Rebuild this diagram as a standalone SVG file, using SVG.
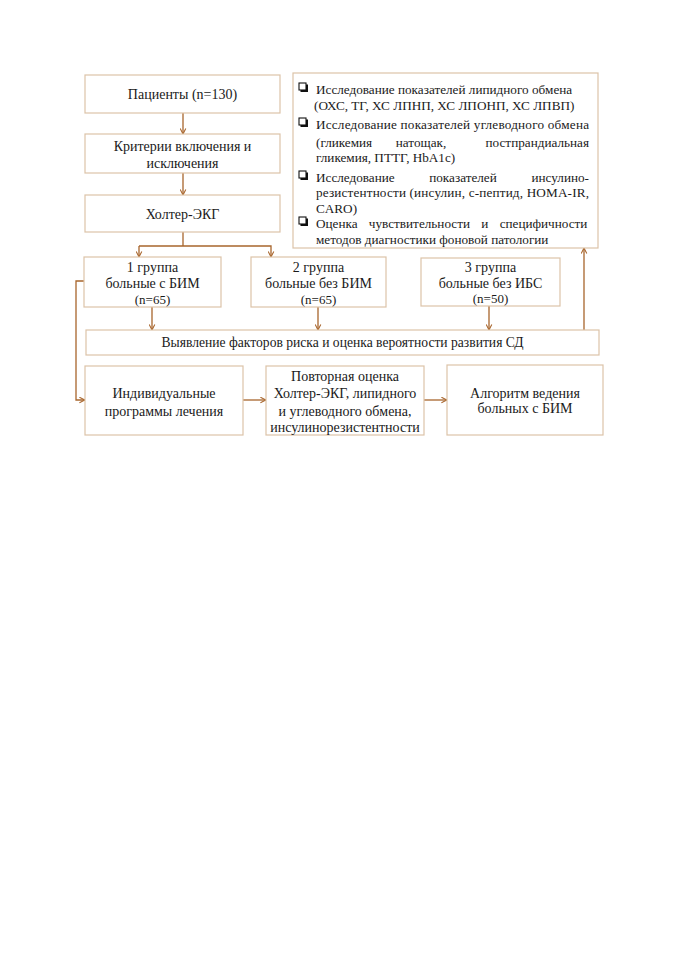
<svg xmlns="http://www.w3.org/2000/svg" width="678" height="960" viewBox="0 0 678 960">
<defs>
<style>
.box{fill:#fff;stroke:#dcc3a8;stroke-width:1.2}
.t{font-family:"Liberation Serif","Times New Roman",serif;font-size:14px;fill:#1a1a1a}
.r{font-size:13.2px}
.c{text-anchor:middle}
.e{text-anchor:end}
.s{font-size:13px}
.ln{fill:none;stroke:#a8652c;stroke-width:1.3}
.cb{fill:#fff;stroke:#111;stroke-width:1.1}
.cbs{fill:#111}
</style>
<marker id="ar" viewBox="0 0 10 10" refX="9" refY="5" markerWidth="7" markerHeight="7" orient="auto" markerUnits="userSpaceOnUse">
<path d="M1,1 L9,5 L1,9" fill="none" stroke="#a8652c" stroke-width="1.5"/>
</marker>
</defs>
<rect width="678" height="960" fill="#fff"/>

<g id="connectors">
<line class="ln" x1="183" y1="113" x2="183" y2="134" marker-end="url(#ar)"/>
<line class="ln" x1="183" y1="173" x2="183" y2="195" marker-end="url(#ar)"/>
<polyline class="ln" points="183,232 183,246"/>
<polyline class="ln" points="139,246 271,246 271,257" marker-end="url(#ar)"/>
<line class="ln" x1="139" y1="246" x2="139" y2="257" marker-end="url(#ar)"/>
<line class="ln" x1="152" y1="307" x2="152" y2="330" marker-end="url(#ar)"/>
<line class="ln" x1="318" y1="307" x2="318" y2="330" marker-end="url(#ar)"/>
<line class="ln" x1="489" y1="306" x2="489" y2="330" marker-end="url(#ar)"/>
<line class="ln" x1="584" y1="330" x2="584" y2="248" marker-end="url(#ar)"/>
<polyline class="ln" points="84,281 76,281 76,400 85,400" marker-end="url(#ar)"/>
<line class="ln" x1="243" y1="400" x2="266" y2="400" marker-end="url(#ar)"/>
<line class="ln" x1="424" y1="400" x2="447" y2="400" marker-end="url(#ar)"/>
</g>

<g id="patients">
<rect class="box" x="85" y="75" width="195" height="38"/>
<text class="t c" x="182.5" y="99">Пациенты (n=130)</text>
</g>
<g id="criteria">
<rect class="box" x="85" y="134" width="195" height="39"/>
<text class="t c" x="182.5" y="151">Критерии включения и</text>
<text class="t c" x="182.5" y="168">исключения</text>
</g>
<g id="holter">
<rect class="box" x="85" y="195" width="195" height="37"/>
<text class="t c" x="182.5" y="219">Холтер-ЭКГ</text>
</g>

<g id="studies">
<rect class="box" x="293" y="73" width="305" height="175"/>
<rect class="cbs" x="300.5" y="84.5" width="7.5" height="7.5"/><rect class="cb" x="299" y="83" width="7" height="7"/>
<text class="t r" x="316" y="94">Исследование показателей липидного обмена</text>
<text class="t r" x="314" y="110">(ОХС, ТГ, ХС ЛПНП, ХС ЛПОНП, ХС ЛПВП)</text>
<rect class="cbs" x="300.5" y="119.5" width="7.5" height="7.5"/><rect class="cb" x="299" y="118" width="7" height="7"/>
<text class="t r" x="316" y="129" textLength="273" lengthAdjust="spacing">Исследование показателей углеводного обмена</text>
<text class="t r" x="316" y="147">(гликемия</text>
<text class="t r c" x="421" y="147">натощак,</text>
<text class="t r e" x="589" y="147">постпрандиальная</text>
<text class="t r" x="316" y="162">гликемия, ПТТГ, HbA1c)</text>
<rect class="cbs" x="300.5" y="172.5" width="7.5" height="7.5"/><rect class="cb" x="299" y="171" width="7" height="7"/>
<text class="t r" x="316" y="182">Исследование</text>
<text class="t r c" x="463" y="182">показателей</text>
<text class="t r e" x="589" y="182">инсулино-</text>
<text class="t r" x="316" y="197" textLength="273" lengthAdjust="spacing">резистентности (инсулин, с-пептид, HOMA-IR,</text>
<text class="t r" x="316" y="213">CARO)</text>
<rect class="cbs" x="300.5" y="218.5" width="7.5" height="7.5"/><rect class="cb" x="299" y="217" width="7" height="7"/>
<text class="t r" x="316" y="228" word-spacing="8">Оценка чувствительности и специфичности</text>
<text class="t r" x="316" y="244">методов диагностики фоновой патологии</text>
</g>

<g id="group1">
<rect class="box" x="84" y="257" width="137" height="50"/>
<text class="t c" x="152.5" y="272">1 группа</text>
<text class="t c" x="152.5" y="288">больные с БИМ</text>
<text class="t c s" x="152.5" y="304">(n=65)</text>
</g>
<g id="group2">
<rect class="box" x="251" y="257" width="135" height="50"/>
<text class="t c" x="318.5" y="272">2 группа</text>
<text class="t c" x="318.5" y="288">больные без БИМ</text>
<text class="t c s" x="318.5" y="304">(n=65)</text>
</g>
<g id="group3">
<rect class="box" x="421" y="258" width="139" height="48"/>
<text class="t c" x="490.5" y="272">3 группа</text>
<text class="t c" x="490.5" y="288">больные без ИБС</text>
<text class="t c s" x="490.5" y="303">(n=50)</text>
</g>

<g id="risk">
<rect class="box" x="86" y="330" width="513" height="25"/>
<text class="t c" x="342.5" y="347" style="font-size:13.6px">Выявление факторов риска и оценка вероятности развития СД</text>
</g>

<g id="programs">
<rect class="box" x="85" y="366" width="158" height="69"/>
<text class="t c" x="164" y="398">Индивидуальные</text>
<text class="t c" x="164" y="416">программы лечения</text>
</g>
<g id="reassess">
<rect class="box" x="266" y="366" width="158" height="69"/>
<text class="t c" x="345" y="381">Повторная оценка</text>
<text class="t c" x="345" y="398">Холтер-ЭКГ, липидного</text>
<text class="t c" x="345" y="416">и углеводного обмена,</text>
<text class="t c" x="345" y="432">инсулинорезистентности</text>
</g>
<g id="algorithm">
<rect class="box" x="447" y="365" width="156" height="70"/>
<text class="t c" x="525" y="398">Алгоритм ведения</text>
<text class="t c" x="525" y="413">больных с БИМ</text>
</g>
</svg>
